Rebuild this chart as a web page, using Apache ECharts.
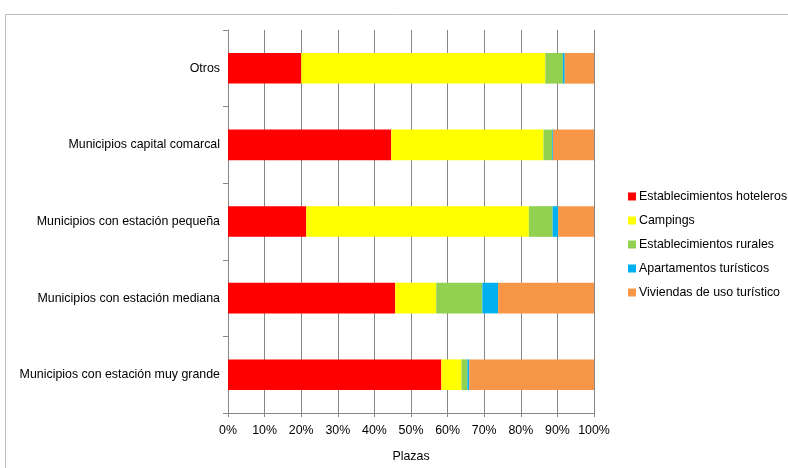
<!DOCTYPE html>
<html><head><meta charset="utf-8">
<script src="https://cdn.jsdelivr.net/npm/echarts@6/dist/echarts.min.js"></script>
<style>html,body{margin:0;padding:0;background:#fff}#c{width:788px;height:468px}</style>
</head><body><div id="c"></div>
<script>
const categories = ["Municipios con estación muy grande","Municipios con estación mediana","Municipios con estación pequeña","Municipios capital comarcal","Otros"];
const hoteleros = [58.3, 45.7, 21.4, 44.6, 20.0];
const campings = [5.5, 11.2, 60.8, 41.6, 66.7];
const rurales = [1.6, 12.6, 6.5, 2.4, 4.8];
const apartamentos = [0.5, 4.3, 1.5, 0.2, 0.5];
const viviendas = [34.1, 26.2, 9.8, 11.2, 8.0];
const xTicks = [0,10,20,30,40,50,60,70,80,90,100];

const font = "'Liberation Sans', sans-serif";
const fs = 12.4;
const names = ["Establecimientos hoteleros","Campings","Establecimientos rurales","Apartamentos turísticos","Viviendas de uso turístico"];
const colors = ["#FF0000","#FFFF00","#92D050","#00B0F0","#F79646"];
const datas = [hoteleros,campings,rurales,apartamentos,viviendas];

const chart = echarts.init(document.getElementById('c'), null, {renderer:'canvas'});
chart.setOption({
  animation:false,
  backgroundColor:'#fff',
  graphic:[{type:'rect',shape:{x:5.5,y:14.5,width:900,height:600},style:{fill:'none',stroke:'#BFBFBF',lineWidth:1},silent:true,z:-1}],
  grid:{left:228,top:30,right:194,bottom:54,containLabel:false},
  legend:{orient:'vertical',left:623,top:185,itemWidth:8,itemHeight:8,itemGap:11,icon:'rect',
    textStyle:{fontFamily:font,fontSize:fs,color:'#000',padding:[0,0,0,-2],lineHeight:13},
    data:names},
  xAxis:{type:'value',min:0,max:100,interval:10,
    name:'Plazas',nameLocation:'middle',nameGap:38,nameTextStyle:{fontFamily:font,fontSize:fs,color:'#000'},
    axisLabel:{formatter:v=>xTicks.includes(v)?v+'%':'',fontFamily:font,fontSize:fs,color:'#000',margin:12},
    axisLine:{show:true,lineStyle:{color:'#868686'}},
    axisTick:{show:true,length:4,lineStyle:{color:'#868686'}},
    splitLine:{show:true,lineStyle:{color:'#868686',width:1}}},
  yAxis:{type:'category',data:categories,
    axisLabel:{fontFamily:font,fontSize:fs,color:'#000',margin:8},
    axisLine:{show:true,lineStyle:{color:'#868686'}},
    axisTick:{show:true,length:5,alignWithLabel:false,lineStyle:{color:'#868686'}}},
  series:datas.map((d,i)=>({name:names[i],type:'bar',stack:'t',data:d,barCategoryGap:'60%',
    itemStyle:{color:colors[i]},emphasis:{disabled:true}}))
});
</script></body></html>
